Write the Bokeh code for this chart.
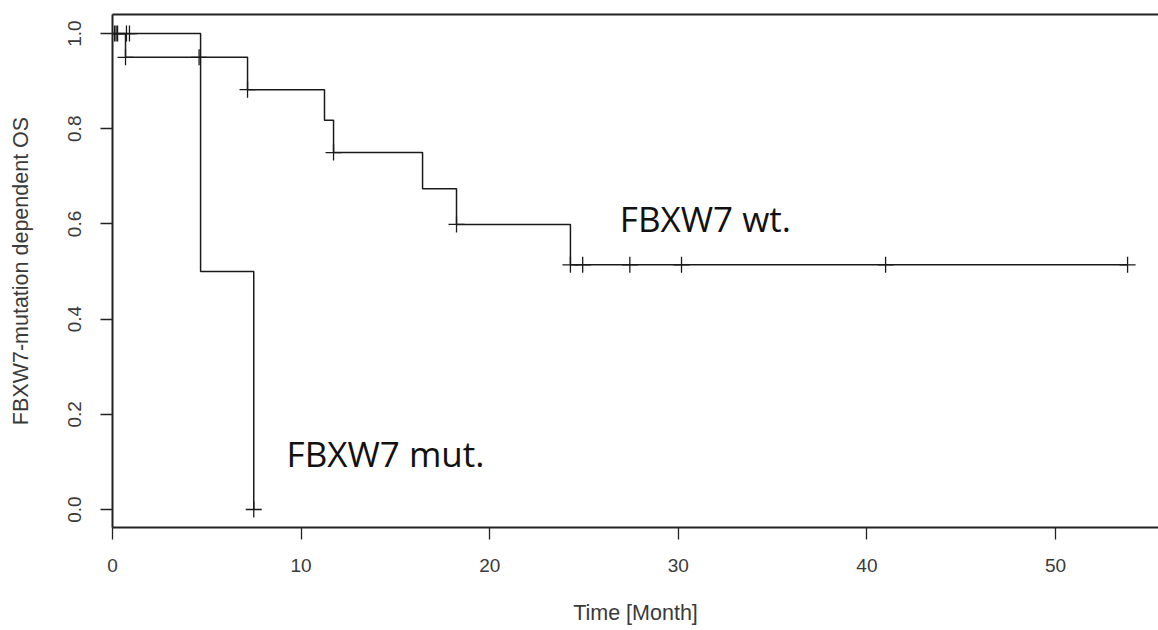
import numpy as np
from bokeh.plotting import figure
from bokeh.models import Range1d, FixedTicker, LinearAxis, PrintfTickFormatter
from bokeh.core.properties import value
from bokeh.embed import file_html
from bokeh.resources import INLINE

# ---- data ----
wt_times = [0.0, 0.69, 7.16, 11.24, 11.72, 16.44, 18.24, 24.28, 53.82]
wt_surv = [1.0, 0.95, 0.882, 0.818, 0.750, 0.674, 0.599, 0.514, 0.514]
wt_censor = [0.11, 0.19, 0.27, 0.69, 4.59, 7.16, 11.72, 18.24, 24.28,
             24.93, 27.43, 30.17, 40.99, 53.82]

mut_times = [0.0, 4.67, 7.49]
mut_surv = [1.0, 0.5, 0.0]
mut_censor = [0.74, 0.90, 7.49]

x_ticks = [0, 10, 20, 30, 40, 50]
y_ticks = [0.0, 0.2, 0.4, 0.6, 0.8, 1.0]

group_labels = ["FBXW7 wt.", "FBXW7 mut."]
label_x = [26.9, 9.23]
label_y = [0.611, 0.118]


def surv_at(times, surv, t):
    idx = np.searchsorted(np.array(times), np.array(t), side="right") - 1
    return list(np.array(surv)[idx])


p = figure(width=1158, height=630, output_backend="svg", toolbar_location=None,
           x_range=Range1d(0, 55.46), y_range=Range1d(-0.0378, 1.040),
           min_border_left=112, min_border_right=0, min_border_top=14,
           min_border_bottom=103,
           x_axis_label="Time [Month]", y_axis_label="FBXW7-mutation dependent OS")
p.grid.visible = False
p.outline_line_color = None
p.background_fill_color = "white"
p.border_fill_color = "white"

for ax in [p.xaxis[0], p.yaxis[0]]:
    ax.axis_line_width = 2
    ax.axis_line_color = "#222222"
    ax.major_tick_line_width = 1.3
    ax.major_tick_line_color = "#222222"
    ax.major_tick_out = 12
    ax.major_tick_in = 0
    ax.minor_tick_out = 0
    ax.minor_tick_in = 0
    ax.major_label_text_font = "Liberation Sans"
    ax.major_label_text_font_size = "19px"
    ax.major_label_text_color = "#3a3a3a"
    ax.axis_label_text_font = "Liberation Sans"
    ax.axis_label_text_font_size = "21.5px"
    ax.axis_label_text_font_style = "normal"
    ax.axis_label_text_color = "#3a3a3a"

p.xaxis[0].ticker = FixedTicker(ticks=x_ticks)
p.xaxis[0].major_label_standoff = 19
p.xaxis[0].axis_label_standoff = 26
p.yaxis[0].ticker = FixedTicker(ticks=y_ticks)
p.yaxis[0].formatter = PrintfTickFormatter(format="%.1f")
p.yaxis[0].major_label_orientation = "parallel"
p.yaxis[0].major_label_standoff = 19
p.yaxis[0].axis_label_standoff = 33

top = LinearAxis(ticker=FixedTicker(ticks=[]), major_label_text_font_size="0px",
                 major_tick_out=0, major_tick_in=0, minor_tick_out=0, minor_tick_in=0,
                 axis_line_width=2, axis_line_color="#222222")
p.add_layout(top, "above")

line_col = "#1a1a1a"
p.step(x=wt_times, y=wt_surv, mode="after", line_color=line_col, line_width=1.5)
p.step(x=mut_times, y=mut_surv, mode="after", line_color=line_col, line_width=1.5)

p.scatter(x=wt_censor, y=surv_at(wt_times, wt_surv, wt_censor), marker="cross",
          size=16, line_color=line_col, line_width=1.3)
p.scatter(x=mut_censor, y=surv_at(mut_times, mut_surv, mut_censor), marker="cross",
          size=16, line_color=line_col, line_width=1.3)

p.text(x=label_x, y=label_y, text=group_labels, text_font=value("Open Sans"),
       text_font_size="35px", text_baseline="alphabetic", text_align="left",
       text_color="#111111")

open("out.html", "w").write(file_html(p, INLINE))
